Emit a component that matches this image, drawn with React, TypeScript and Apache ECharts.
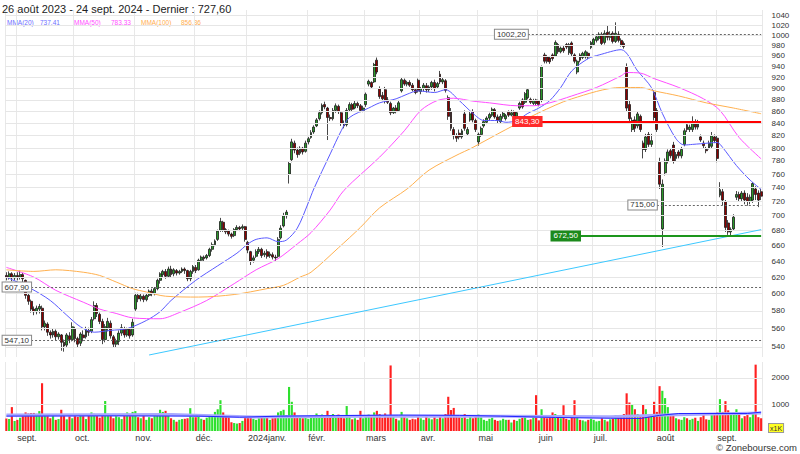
import { useEffect, useRef } from 'react';
import * as echarts from 'echarts';

// ---------- calendar (Euronext trading days) ----------
const FIRST_DAY = '2023-08-28';
const LAST_DAY = '2024-09-24';
const HOLIDAYS = ['2023-12-25', '2023-12-26', '2024-01-01', '2024-03-29', '2024-04-01', '2024-05-01'];
const MONTH_NAMES = ['janv.', 'févr.', 'mars', 'avr.', 'mai', 'juin', 'juil.', 'août', 'sept.', 'oct.', 'nov.', 'déc.'];
const HEADER_RANGE = '26 août 2023 - 24 sept. 2024';

// ---------- daily candles [open, close, low, high] ----------
const AUG23 = [[622, 620, 616, 626], [620, 624, 617, 627], [624, 619, 615, 626], [619, 622, 616, 625]];
const SEP23 = [
  [622, 620, 616, 626], [620, 623, 617, 628], [623, 618, 614, 625], [616, 598, 594, 617], [598, 591, 587, 600],
  [591, 582, 578, 593], [582, 579, 575, 585], [579, 583, 576, 586], [582, 585, 577, 588], [583, 562, 558, 586],
  [562, 566, 558, 569], [565, 556, 552, 567], [556, 553, 549, 558], [553, 557, 550, 560], [557, 551, 547, 559],
  [551, 554, 548, 556], [553, 545, 536, 554], [545, 541, 535, 548], [542, 553, 540, 555], [552, 548, 544, 556],
  [548, 562, 546, 567],
];
const OCT23 = [
  [560, 549, 545, 562], [549, 543, 539, 551], [544, 554, 541, 556], [553, 550, 546, 558], [551, 559, 549, 562],
  [558, 556, 552, 561], [557, 570, 555, 573], [571, 586, 569, 591], [586, 577, 573, 589], [576, 568, 565, 578],
  [568, 548, 543, 571], [548, 562, 545, 565], [561, 568, 557, 572], [566, 552, 549, 569], [551, 543, 539, 553],
  [543, 546, 539, 549], [546, 555, 542, 558], [555, 561, 552, 565], [560, 553, 550, 562], [553, 559, 551, 561],
  [559, 552, 549, 561], [553, 567, 551, 571],
];
const NOV23 = [
  [582, 598, 580, 601], [598, 594, 590, 601], [594, 597, 591, 600], [597, 593, 590, 599], [593, 598, 591, 600],
  [598, 603, 596, 605], [603, 600, 597, 606], [600, 606, 598, 608], [606, 616, 604, 618], [616, 624, 612, 626],
  [623, 627, 619, 629], [627, 621, 618, 630], [621, 630, 619, 633], [630, 623, 620, 634], [624, 629, 621, 631],
  [628, 625, 622, 630], [625, 627, 623, 629], [627, 630, 625, 632], [630, 628, 624, 632], [628, 618, 615, 629],
  [618, 627, 615, 629], [627, 633, 624, 635],
];
const DEC23 = [
  [632, 628, 625, 635], [629, 641, 628, 643], [641, 645, 639, 647], [645, 643, 640, 647], [644, 647, 642, 649],
  [647, 655, 645, 657], [655, 661, 652, 664], [661, 666, 659, 668], [668, 679, 666, 681], [680, 692, 678, 697],
  [691, 681, 678, 693], [681, 678, 675, 683], [679, 675, 672, 681], [675, 672, 669, 677], [673, 681, 671, 683],
  [681, 684, 679, 687], [684, 682, 679, 686], [683, 685, 680, 688], [685, 668, 665, 686],
];
const JAN24 = [
  [664, 654, 650, 666], [652, 640, 635, 653], [641, 644, 638, 647], [646, 652, 644, 655], [652, 655, 649, 658],
  [655, 647, 644, 657], [648, 650, 645, 653], [652, 646, 643, 655], [647, 649, 644, 652], [648, 645, 642, 651],
  [645, 644, 640, 648], [646, 668, 644, 671], [670, 683, 668, 687], [686, 700, 684, 704], [700, 705, 696, 708],
  [760, 776, 746, 779], [782, 810, 778, 815], [808, 797, 792, 812], [797, 790, 785, 801], [792, 800, 789, 803],
  [800, 794, 790, 802], [795, 808, 793, 812],
];
const FEB24 = [
  [810, 815, 806, 818], [817, 825, 815, 829], [826, 834, 823, 837], [836, 846, 834, 849], [848, 858, 845, 862],
  [858, 871, 855, 874], [872, 868, 864, 877], [866, 850, 813, 868], [850, 848, 844, 855], [848, 862, 845, 866],
  [862, 870, 858, 874], [869, 860, 856, 872], [858, 840, 836, 860], [840, 836, 832, 845], [838, 862, 835, 866],
  [863, 872, 860, 876], [872, 864, 861, 875], [866, 874, 864, 879], [874, 870, 866, 877], [870, 862, 859, 873],
  [862, 866, 859, 870],
];
const MAR24 = [
  [872, 890, 868, 893], [908, 913, 904, 916], [911, 903, 900, 913], [912, 944, 910, 947], [952, 930, 926, 957],
  [900, 886, 882, 904], [888, 882, 878, 894], [898, 878, 874, 903], [880, 876, 873, 885], [874, 858, 854, 877],
  [858, 866, 856, 868], [866, 860, 857, 871], [862, 875, 860, 880], [896, 916, 893, 920], [915, 908, 905, 918],
  [908, 911, 904, 914], [911, 906, 903, 915], [906, 898, 895, 910], [898, 893, 890, 901], [915, 896, 893, 918],
];
const APR24 = [
  [895, 900, 890, 903], [900, 906, 895, 910], [905, 898, 893, 910], [898, 903, 894, 906], [903, 911, 898, 914],
  [911, 900, 895, 916], [903, 909, 900, 912], [926, 912, 908, 932], [912, 916, 908, 920], [914, 897, 893, 917],
  [884, 852, 846, 888], [860, 832, 828, 866], [830, 820, 814, 834], [820, 816, 810, 824], [824, 818, 814, 830],
  [818, 828, 815, 831], [856, 832, 828, 862], [823, 830, 820, 834], [846, 856, 843, 860], [860, 846, 842, 864],
  [845, 830, 826, 848],
];
const MAY24 = [
  [810, 822, 804, 825], [822, 832, 818, 835], [836, 843, 833, 847], [842, 849, 839, 852], [849, 855, 845, 858],
  [854, 864, 851, 867], [863, 851, 848, 866], [851, 845, 840, 855], [843, 852, 840, 856], [852, 857, 848, 860],
  [848, 853, 845, 856], [859, 854, 851, 862], [854, 858, 852, 863], [860, 852, 849, 862], [852, 858, 850, 861],
  [866, 874, 863, 877], [880, 868, 865, 883], [876, 891, 873, 894], [884, 898, 881, 901], [881, 876, 873, 884],
  [874, 879, 871, 882], [880, 874, 870, 882],
];
const JUN24 = [
  [878, 872, 869, 880], [880, 940, 876, 942], [962, 950, 946, 966], [958, 950, 946, 962], [956, 949, 945, 960],
  [962, 955, 951, 965], [960, 986, 958, 990], [982, 968, 964, 985], [968, 975, 965, 978], [975, 970, 966, 979],
  [982, 977, 973, 985], [966, 982, 962, 985], [985, 964, 960, 988], [962, 950, 946, 965], [930, 950, 926, 953],
  [962, 952, 948, 965], [957, 965, 954, 968], [958, 968, 955, 971], [965, 958, 954, 968], [976, 986, 973, 989],
];
const JUL24 = [
  [982, 992, 979, 995], [990, 997, 986, 1000], [994, 1002, 990, 1006], [1002, 984, 980, 1006], [986, 1004, 982, 1010],
  [1006, 996, 990, 1020], [996, 1002, 990, 1008], [1004, 988, 984, 1008], [988, 1004, 985, 1026], [1002, 990, 986, 1008],
  [990, 982, 978, 994], [984, 978, 974, 988], [940, 866, 860, 946], [872, 848, 843, 880], [830, 845, 826, 850],
  [846, 832, 826, 852], [836, 856, 832, 860], [852, 830, 826, 855], [808, 798, 784, 812], [798, 818, 794, 823],
  [822, 806, 802, 826], [806, 812, 802, 823], [893, 850, 845, 897],
];
const AUG24 = [
  [862, 830, 826, 866], [778, 745, 738, 785], [682, 745, 658, 752], [762, 780, 758, 784], [780, 794, 776, 798],
  [796, 788, 784, 800], [805, 780, 776, 810], [784, 790, 780, 794], [794, 788, 784, 797], [788, 798, 784, 802],
  [806, 828, 803, 832], [838, 830, 826, 842], [830, 834, 826, 838], [830, 843, 826, 852], [842, 834, 830, 847],
  [834, 842, 830, 846], [818, 813, 810, 822], [808, 804, 800, 812], [798, 796, 792, 802], [800, 808, 798, 812],
  [803, 820, 800, 826], [818, 812, 808, 822],
];
const SEP24 = [
  [816, 784, 778, 820], [729, 737, 726, 748], [734, 722, 715, 738], [720, 684, 678, 722], [690, 678, 674, 694],
  [678, 681, 672.5, 684], [682, 698, 680, 702], [726, 730, 722, 735], [730, 724, 720, 734], [724, 732, 720, 735],
  [732, 722, 716, 736], [726, 720, 714, 732], [720, 726, 716, 730], [722, 746, 718, 748], [738, 730, 722, 742],
  [732, 722, 712, 736], [734, 727.6, 722, 738],
];

// ---------- daily volumes (units of 1 000) ----------
const VOL_AUG23 = [470, 450, 900, 380];
const VOL_SEP23 = [420, 500, 560, 700, 660, 680, 680, 650, 750, 1800, 620, 560, 480, 600, 420, 450, 800, 620, 440, 550, 480];
const VOL_OCT23 = [560, 530, 600, 560, 450, 620, 700, 650, 600, 500, 580, 1130, 650, 620, 480, 560, 520, 450, 640, 700, 560, 720];
const VOL_NOV23 = [750, 520, 480, 600, 420, 520, 480, 560, 650, 800, 720, 760, 640, 480, 420, 350, 420, 450, 460, 480, 860, 520];
const VOL_DEC23 = [520, 560, 460, 420, 500, 560, 600, 720, 820, 1160, 700, 560, 520, 330, 300, 280, 300, 380, 500];
const VOL_JAN24 = [500, 560, 460, 420, 480, 500, 520, 560, 420, 480, 520, 700, 750, 800, 600, 1660, 1100, 700, 560, 520, 480, 560];
const VOL_FEB24 = [460, 500, 540, 660, 520, 620, 540, 760, 520, 640, 580, 620, 560, 480, 940, 520, 440, 480, 420, 760, 480];
const VOL_MAR24 = [560, 620, 560, 700, 760, 640, 500, 660, 560, 2470, 560, 460, 400, 720, 520, 480, 420, 460, 440, 600];
const VOL_APR24 = [480, 420, 560, 480, 440, 520, 460, 600, 480, 640, 1290, 790, 870, 560, 520, 500, 640, 460, 560, 480, 600];
const VOL_MAY24 = [620, 520, 420, 380, 460, 500, 420, 380, 400, 460, 420, 420, 320, 420, 380, 460, 500, 560, 420, 440, 520, 1350];
const VOL_JUN24 = [400, 820, 560, 480, 560, 700, 640, 560, 480, 970, 460, 420, 560, 1160, 560, 420, 400, 360, 420, 460];
const VOL_JUL24 = [420, 360, 380, 480, 420, 360, 440, 460, 600, 520, 560, 640, 1420, 1075, 1000, 820, 640, 600, 1010, 820, 600, 560, 1100];
const VOL_AUG24 = [720, 1690, 1515, 1240, 900, 560, 600, 480, 440, 420, 520, 480, 420, 460, 500, 380, 520, 600, 440, 420, 600, 660];
const VOL_SEP24 = [700, 1200, 720, 1125, 780, 620, 700, 820, 660, 480, 560, 600, 520, 690, 2500, 520, 480];

// ---------- moving averages: [trading-day index, value] ----------
const MA20_KNOTS = [[0, 620], [9, 606], [16, 592], [22, 575], [27, 562], [32, 556], [38, 558], [44, 560], [51, 569], [56, 579], [60, 592], [69, 616], [77, 634], [84, 650], [88, 662], [91, 668], [95, 670], [99, 665], [102, 667], [106, 683], [110, 718], [112, 738], [118, 791], [122, 828], [125, 850], [132, 866], [136, 875], [142, 882], [146, 890], [150, 896], [156, 893], [160, 898], [165, 879], [170, 857], [174, 845], [179, 845], [182, 842], [186, 845], [190, 857], [194, 866], [198, 879], [202, 902], [206, 932], [212, 955], [216, 962], [224, 972], [230, 932], [235, 902], [239, 857], [244, 815], [247, 805], [250, 806], [253, 807], [259, 809], [261, 801], [266, 773], [271, 751], [275, 737.41]];
const MA50_KNOTS = [[0, 632], [10, 620], [18, 604], [28, 590], [34, 582], [40, 577], [46, 572], [56, 571], [63, 578], [73, 592], [83, 612], [91, 629], [99, 643], [106, 662], [111, 677], [118, 708], [123, 736], [136, 786], [145, 828], [151, 862], [157, 879], [163, 883], [170, 878], [176, 875], [186, 870], [192, 870], [198, 875], [206, 887], [215, 902], [224, 923], [226, 929], [231, 928], [236, 918], [245, 902], [254, 882], [260, 862], [267, 817], [275, 783.33]];
const MA100_KNOTS = [[0, 629], [10, 627], [18, 629], [28, 626], [34, 622], [40, 614], [46, 606], [51, 602], [58, 597], [70, 596], [83, 599], [95, 606], [101, 610], [107, 620], [111, 626], [121, 657], [129, 684], [136, 711], [146, 738], [154, 766], [165, 791], [169, 799], [182, 830], [194, 858], [206, 882], [224, 902], [231, 902], [236, 896], [245, 887], [255, 875], [265, 866], [275, 856.36]];
const VOL_MA_KNOTS = [[0, 560], [40, 570], [70, 560], [85, 520], [100, 560], [120, 580], [143, 600], [165, 590], [180, 560], [200, 510], [220, 480], [231, 470], [238, 590], [245, 660], [270, 660], [275, 710]];
const VOL_MA_LONG_KNOTS = [[0, 600], [60, 620], [90, 530], [130, 560], [180, 560], [220, 540], [240, 600], [275, 680]];

// ---------- annotations ----------
const PRICE_TICKS = [540, 560, 580, 600, 620, 640, 660, 680, 700, 720, 740, 760, 780, 800, 820, 840, 860, 880, 900, 920, 940, 960, 980, 1000, 1020, 1040];
const VOLUME_TICKS = [1000, 2000];
const LEVELS = [
  { value: 1002.2, from: 190, kind: 'dash' },
  { value: 843.3, from: 195, kind: 'red' },
  { value: 715.0, from: 237, kind: 'dash' },
  { value: 672.5, from: 209, kind: 'green' },
  { value: 607.9, from: 9, kind: 'dash' },
  { value: 547.1, from: 9, kind: 'dash' },
];
const TREND = [[52, 531.5], [275, 681]];

const FONT = '"Liberation Sans", Arial, sans-serif';

function buildDates(): string[] {
  const out: string[] = [];
  const d = new Date(FIRST_DAY + 'T00:00:00Z');
  const end = new Date(LAST_DAY + 'T00:00:00Z');
  while (d <= end) {
    const wd = d.getUTCDay();
    const s = d.toISOString().slice(0, 10);
    if (wd !== 0 && wd !== 6 && !HOLIDAYS.includes(s)) out.push(s);
    d.setUTCDate(d.getUTCDate() + 1);
  }
  return out;
}

function buildOption() {
  const dates = buildDates();
  const n = dates.length;
  const last = n - 1;
  const ohlc = [...AUG23, ...SEP23, ...OCT23, ...NOV23, ...DEC23, ...JAN24, ...FEB24, ...MAR24, ...APR24, ...MAY24, ...JUN24, ...JUL24, ...AUG24, ...SEP24];
  const volumes = [...VOL_AUG23, ...VOL_SEP23, ...VOL_OCT23, ...VOL_NOV23, ...VOL_DEC23, ...VOL_JAN24, ...VOL_FEB24, ...VOL_MAR24, ...VOL_APR24, ...VOL_MAY24, ...VOL_JUN24, ...VOL_JUL24, ...VOL_AUG24, ...VOL_SEP24];

  const monthStarts = new Set<number>([0]);
  for (let i = 1; i < n; i++) if (dates[i].slice(5, 7) !== dates[i - 1].slice(5, 7)) monthStarts.add(i);
  const labelStarts = new Set<number>([...monthStarts].filter((i) => i > 0));
  const monthLabel = (d: string) => {
    const m = +d.slice(5, 7);
    return (m === 1 ? d.slice(0, 4) : '') + MONTH_NAMES[m - 1];
  };
  const pair = (k: number[][]) => k.map(([i, v]) => [dates[i], v]);
  const fmt = (v: number) => v.toFixed(2).replace('.', ',');
  const lastOf = (k: number[][]) => k[k.length - 1][1];

  const volData = volumes.map((v, i) => ({
    value: v,
    itemStyle: { color: ohlc[i] && ohlc[i][1] >= ohlc[i][0] ? '#2ee02e' : '#ff2020' },
  }));

  const levelData = LEVELS.map((l) => {
    let lineStyle: any, label: any;
    if (l.kind === 'red') {
      lineStyle = { color: '#ff0000', width: 2, type: 'solid' };
      label = { backgroundColor: '#ff2a2a', color: '#fff', borderColor: '#ff2a2a' };
    } else if (l.kind === 'green') {
      lineStyle = { color: '#1c961c', width: 2, type: 'solid' };
      label = { backgroundColor: '#1c8a1c', color: '#fff', borderColor: '#1c8a1c' };
    } else {
      lineStyle = { color: '#666', width: 1, type: [2, 2] };
      label = { backgroundColor: '#fff', color: '#333', borderColor: '#888' };
    }
    return [
      {
        coord: [dates[l.from], l.value],
        lineStyle,
        label: {
          show: true, position: 'start', distance: 0, formatter: fmt(l.value), fontSize: 8, fontFamily: FONT,
          borderWidth: 1, padding: [1, 2, 0, 2], ...label,
        },
      },
      { coord: [dates[last], l.value] },
    ];
  });

  const splitLine = { show: true, interval: (i: number) => monthStarts.has(i), lineStyle: { color: '#e8e8e8', width: 1 } };

  const legendItems = [
    { name: 'MMA(20)', color: '#6d6dff', value: lastOf(MA20_KNOTS), x: 7, vx: 40 },
    { name: 'MMA(50)', color: '#ff4dff', value: lastOf(MA50_KNOTS), x: 74, vx: 111 },
    { name: 'MMA(100)', color: '#ffad4d', value: lastOf(MA100_KNOTS), x: 141, vx: 181 },
  ];
  const graphic: any[] = [];
  legendItems.forEach((it) => {
    graphic.push({ type: 'text', x: it.x, y: 22, style: { text: it.name, fill: it.color, fontSize: 6.5, fontFamily: FONT, verticalAlign: 'middle' } });
    graphic.push({ type: 'text', x: it.vx, y: 22, style: { text: fmt(it.value), fill: it.color, fontSize: 6.5, fontFamily: FONT, verticalAlign: 'middle' } });
  });
  graphic.push({
    type: 'text', x: 769, y: 424,
    style: { text: 'x1K', fill: '#333', fontSize: 7, fontFamily: FONT, backgroundColor: '#ffff22', borderColor: '#999', borderWidth: 1, padding: [1, 1, 0, 1] },
  });
  graphic.push({ type: 'text', x: 716, y: 442, style: { text: '© Zonebourse.com', fill: '#333', fontSize: 9.5, fontFamily: FONT } });

  return {
    animation: false,
    backgroundColor: '#ffffff',
    title: {
      text: `${HEADER_RANGE} - Dernier : ${fmt(ohlc[last][1])}`,
      left: 2, top: 3, padding: 0,
      textStyle: { fontSize: 11, fontWeight: 'normal', color: '#222', fontFamily: FONT },
    },
    graphic,
    grid: [
      { left: 5, right: 37.5, top: 10, height: 347 },
      { left: 5, right: 37.5, top: 362, height: 69 },
    ],
    xAxis: [
      {
        type: 'category', gridIndex: 0, data: dates, boundaryGap: true,
        axisLine: { show: false }, axisTick: { show: false }, axisLabel: { show: false }, splitLine,
      },
      {
        type: 'category', gridIndex: 1, data: dates, boundaryGap: true,
        axisLine: { show: false }, axisTick: { show: false },
        axisLabel: {
          show: true, interval: (i: number) => labelStarts.has(i), formatter: (v: string) => monthLabel(v),
          align: 'left', margin: 2, fontSize: 9, color: '#333', fontFamily: FONT,
        },
        splitLine,
      },
    ],
    yAxis: [
      { type: 'log', gridIndex: 0, min: 529.4, max: 1051.3, show: false },
      { type: 'value', gridIndex: 1, min: 0, max: 2600, show: false },
    ],
    series: [
      {
        name: 'grille', type: 'line', xAxisIndex: 0, yAxisIndex: 0, data: [], z: 1, silent: true,
        markLine: {
          silent: true, symbol: ['none', 'none'], animation: false,
          lineStyle: { color: '#e6e6e6', type: 'solid', width: 1 },
          label: { show: true, position: 'end', distance: 9, color: '#333', fontSize: 8, fontFamily: FONT, formatter: (p: any) => String(p.value) },
          data: PRICE_TICKS.map((v) => ({ yAxis: v })),
        },
      },
      {
        name: 'tendance', type: 'line', xAxisIndex: 0, yAxisIndex: 0, data: [], z: 2, silent: true,
        markLine: {
          silent: true, symbol: ['none', 'none'], animation: false,
          lineStyle: { color: '#3cc8ff', width: 1, type: 'solid' },
          label: { show: false },
          data: [[{ coord: [dates[TREND[0][0]], TREND[0][1]] }, { coord: [dates[TREND[1][0]], TREND[1][1]] }]],
        },
      },
      {
        name: 'cours', type: 'candlestick', xAxisIndex: 0, yAxisIndex: 0, data: ohlc, z: 3, barWidth: 2.4,
        itemStyle: { color: '#2a9a2a', color0: '#8e0000', borderColor: '#1a1a1a', borderColor0: '#1a1a1a', borderWidth: 0.8 },
      },
      { name: 'MMA(20)', type: 'line', xAxisIndex: 0, yAxisIndex: 0, data: pair(MA20_KNOTS), showSymbol: false, smooth: 0.3, z: 4, lineStyle: { color: '#5a5aff', width: 1 } },
      { name: 'MMA(50)', type: 'line', xAxisIndex: 0, yAxisIndex: 0, data: pair(MA50_KNOTS), showSymbol: false, smooth: 0.3, z: 4, lineStyle: { color: '#ff4dff', width: 1 } },
      { name: 'MMA(100)', type: 'line', xAxisIndex: 0, yAxisIndex: 0, data: pair(MA100_KNOTS), showSymbol: false, smooth: 0.3, z: 4, lineStyle: { color: '#ffb04f', width: 1 } },
      {
        name: 'niveaux', type: 'line', xAxisIndex: 0, yAxisIndex: 0, data: [], z: 6, silent: true,
        markLine: { silent: true, symbol: ['none', 'none'], animation: false, data: levelData },
      },
      {
        name: 'grille volume', type: 'line', xAxisIndex: 1, yAxisIndex: 1, data: [], z: 1, silent: true,
        markLine: {
          silent: true, symbol: ['none', 'none'], animation: false,
          lineStyle: { color: '#e6e6e6', type: 'solid', width: 1 },
          label: { show: true, position: 'end', distance: 9, color: '#333', fontSize: 8, fontFamily: FONT, formatter: (p: any) => String(p.value) },
          data: VOLUME_TICKS.map((v) => ({ yAxis: v })),
        },
      },
      { name: 'volume', type: 'bar', xAxisIndex: 1, yAxisIndex: 1, data: volData, barWidth: '78%', z: 2 },
      { name: 'vol long', type: 'line', xAxisIndex: 1, yAxisIndex: 1, data: pair(VOL_MA_LONG_KNOTS), showSymbol: false, z: 3, lineStyle: { color: '#a9a9ff', width: 3 } },
      { name: 'vol moy', type: 'line', xAxisIndex: 1, yAxisIndex: 1, data: pair(VOL_MA_KNOTS), showSymbol: false, z: 4, lineStyle: { color: '#2424ff', width: 1 } },
    ],
  };
}

export default function App() {
  const ref = useRef<HTMLDivElement>(null);
  useEffect(() => {
    if (!ref.current) return;
    const chart = echarts.init(ref.current, null, { renderer: 'svg' });
    chart.setOption(buildOption() as any);
    return () => chart.dispose();
  }, []);
  return (
    <div
      ref={ref}
      style={{ position: 'absolute', left: 0, top: 0, width: 800, height: 454, background: '#fff' }}
    />
  );
}
